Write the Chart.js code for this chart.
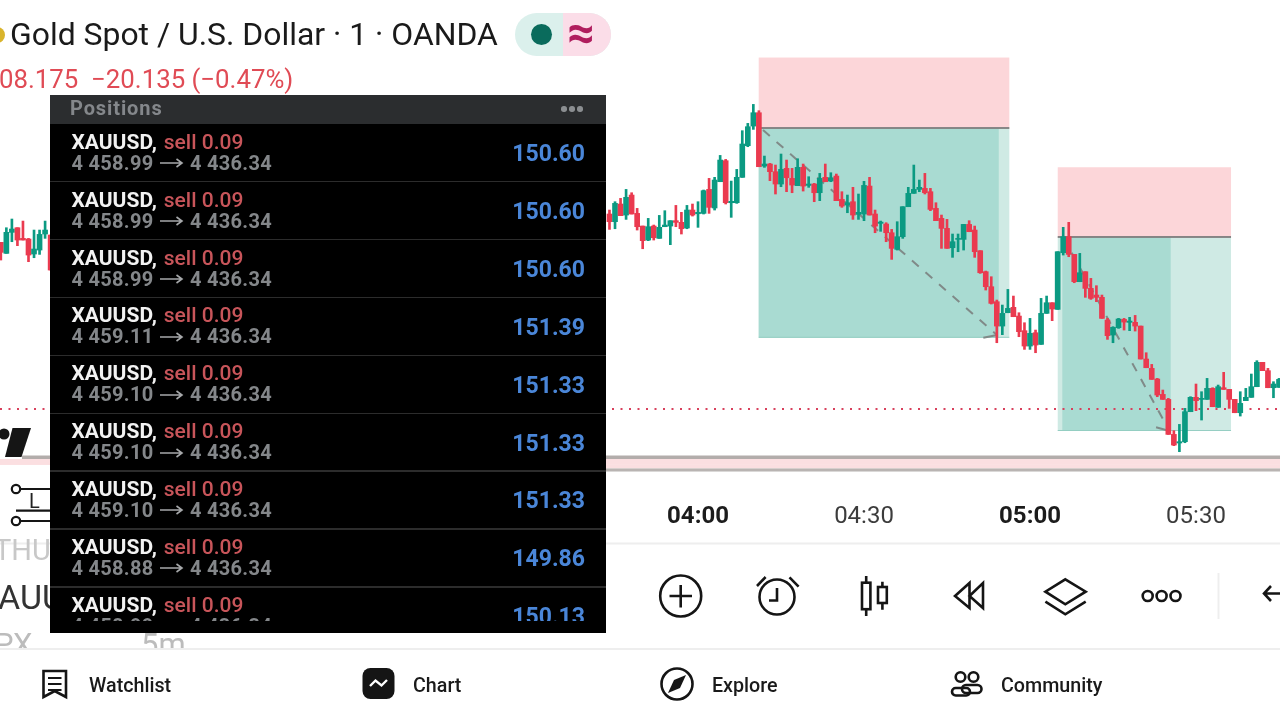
<!DOCTYPE html>
<html><head><meta charset="utf-8">
<script src="https://cdn.jsdelivr.net/npm/chart.js@4"></script>
<style>
html,body{margin:0;padding:0;background:#fff;width:1280px;height:720px;overflow:hidden;font-family:Roboto,sans-serif}
#wrap{position:relative;width:1280px;height:720px;overflow:hidden}
canvas#c{position:absolute;left:0;top:0}
.t{position:absolute;white-space:pre;line-height:1}
svg{position:absolute;left:0;top:0}
#panel{position:absolute;left:50px;top:95px;width:556px;height:538px;background:#000;overflow:hidden}
#phead{position:absolute;left:0;top:0;width:556px;height:29px;background:#2b2d2f}
.row{position:absolute;left:0;width:556px;height:58px}
.sep{position:absolute;left:0;width:556px;height:1.5px;background:#2c2c2c}
#clip{position:absolute;left:0;top:29px;width:556px;height:497px;overflow:hidden}
</style></head><body>
<div id="wrap">
<canvas id="c" width="1280" height="720"></canvas>
<svg width="1280" height="720" viewBox="0 0 1280 720" fill="none" stroke="#151515" stroke-width="2.6">
  <line x1="0" y1="543.5" x2="1280" y2="543.5" stroke="#eeeeee" stroke-width="2"/>
  <line x1="0" y1="649" x2="1280" y2="649" stroke="#eeeeee" stroke-width="2"/>
  <line x1="1218.5" y1="573" x2="1218.5" y2="619" stroke="#eeeeee" stroke-width="2"/>
  <circle cx="4" cy="434" r="5.5" fill="#151515" stroke="none"/>
  <path d="M12.5 428H31L21.5 457H5Z" fill="#151515" stroke="none"/>
  <g stroke-width="2.2"><circle cx="16" cy="489" r="4.2"/><circle cx="16" cy="521" r="4.2"/>
  <path d="M20 489H50M20 521H50M16 510.7H50"/></g>
  <circle cx="680.7" cy="596" r="20.5"/><path d="M669.5 596H692M680.7 585V607.5"/>
  <circle cx="777" cy="597" r="17.5"/><path d="M777 588V600.5H769M757 586L765.6 577M798.6 586.7L789.5 577.3"/>
  <rect x="862" y="582.7" width="8.4" height="26.5"/><path d="M866.2 576V582.7M866.2 609V616"/>
  <rect x="878" y="587" width="8.8" height="16"/><path d="M882.4 581.7V587M882.4 603V609.7"/>
  <path d="M955 596L969.5 583V608ZM969.5 596L983 583V608Z"/>
  <path d="M1065.3 579.3L1085.7 591.7L1065.3 604.3L1045.4 591.7Z"/><path d="M1045.4 601.7L1065.3 614.3L1085.7 601.7"/>
  <circle cx="1147.7" cy="596" r="5"/><circle cx="1161.6" cy="596" r="5"/><circle cx="1175.5" cy="596" r="5"/>
  <path d="M1280 593.5H1264M1271 586L1264 593.5L1271 601"/>
  <path d="M43.5 671H66V697L54.7 691L43.5 697Z"/><path d="M48 678H61.5M48 684H61.5M48 690H61.5" stroke-width="2"/>
  <rect x="362.5" y="668" width="32" height="31" rx="8" fill="#151515" stroke="none"/>
  <path d="M370 686L375.5 680.5L381.5 685.5L387 680" stroke="#fff" stroke-width="2.4"/>
  <circle cx="677" cy="684" r="15.5"/><path d="M686 675L680 688L668 693L674 680Z" fill="#151515" stroke="none"/>
  <circle cx="960.5" cy="677" r="4.8"/><circle cx="973.5" cy="677" r="4.8"/>
  <rect x="952" y="688" width="18" height="7.5" rx="3.7"/><rect x="962" y="685" width="19.5" height="8" rx="4"/>
  <circle cx="-3" cy="35" r="8" fill="#d9b42c" stroke="none"/>
</svg>
<div class="t" style="left:29px;top:491px;font-size:20px;color:#222">L</div>
<div id="pill" style="position:absolute;left:515px;top:13px;width:96px;height:43px;border-radius:22px;overflow:hidden;background:#dbf0ec">
  <div style="position:absolute;left:48px;top:0;width:48px;height:43px;background:#fbdde8"></div>
  <div style="position:absolute;left:16px;top:11px;width:21px;height:21px;border-radius:50%;background:#0a6b5c"></div>
  <div class="t" style="left:52px;top:-4px;font-size:48px;font-weight:700;color:#b01e5e">≈</div>
</div>
<div class="t" style="left:10px;top:18.5px;font-size:31.9px;color:#1a1a1a" id="title">Gold Spot / U.S. Dollar · 1 · OANDA</div>
<div class="t" style="left:-1px;top:67px;font-size:25.8px;color:#e04b55">08.175  −20.135 (−0.47%)</div>
<div class="t" style="left:-6px;top:536px;font-size:29px;color:#c8c8c8">THU</div>
<div class="t" style="left:-2px;top:580px;font-size:34px;color:#333">AUU</div>
<div style="position:absolute;left:0;top:625px;width:200px;height:23px;overflow:hidden">
  <div class="t" style="left:-6px;top:4px;font-size:31px;color:#bcbcbc">PX</div>
  <div class="t" style="left:141px;top:4px;font-size:31px;color:#bcbcbc">5m</div>
</div>
<div class="t" style="left:89px;top:676px;font-size:19.7px;font-weight:500;color:#1a1a1a">Watchlist</div>
<div class="t" style="left:413px;top:676px;font-size:19.7px;font-weight:500;color:#1a1a1a">Chart</div>
<div class="t" style="left:712px;top:676px;font-size:19.7px;font-weight:500;color:#1a1a1a">Explore</div>
<div class="t" style="left:1001px;top:676px;font-size:19.7px;font-weight:500;color:#1a1a1a">Community</div>
<div id="panel">
  <div id="phead">
    <div class="t" style="left:20px;top:3px;font-size:20px;font-weight:700;letter-spacing:.9px;color:#84878b">Positions</div>
    <div style="position:absolute;left:511px;top:11px;width:5.5px;height:5.5px;border-radius:50%;background:#8b8e91"></div>
    <div style="position:absolute;left:519px;top:11px;width:5.5px;height:5.5px;border-radius:50%;background:#8b8e91"></div>
    <div style="position:absolute;left:527px;top:11px;width:5.5px;height:5.5px;border-radius:50%;background:#8b8e91"></div>
  </div>
  <div id="clip"></div>
</div>
</div>
<script>
// ---- candle times (minutes after midnight) ----
const minutes = [114,115,116,117,118,119,120,121,122,123,
224,225,226,227,228,229,230,231,232,233,234,235,236,237,238,239,240,241,242,243,244,245,246,247,248,249,250,
251,252,253,254,255,256,257,258,259,260,261,262,263,264,265,266,267,268,269,270,271,272,273,274,275,276,277,278,279,280,
281,282,283,284,285,286,287,288,289,290,291,292,293,294,295,296,297,298,299,300,301,302,303,304,305,306,307,308,309,310,
311,312,313,314,315,316,317,318,319,320,321,322,323,324,325,326,327,328,329,330,331,332,333,334,335,336,337,338,339,340,
341,342,343,344,345];
const opens = [4446.64,4445.45,4447.72,4448.22,4447.07,4447.00,4445.38,4445.81,4447.54,4447.43,
4449.70,4448.87,4450.78,4449.59,4451.75,4449.77,4448.40,4446.89,4448.40,4447.07,4448.33,4448.40,4448.98,4448.80,4448.19,4450.13,4449.73,4449.77,4452.36,4450.35,4453.19,4455.46,4450.92,4450.92,4453.66,4457.08,4459.20,
4460.64,4454.88,4455.10,4454.27,4452.94,4454.63,4453.55,4452.76,4454.74,4452.79,4452.94,4452.00,4453.66,4453.26,4453.80,4451.28,4450.67,4451.03,4449.66,4449.70,4452.72,4449.70,4448.69,4448.62,4447.68,4445.88,4447.25,4450.49,4451.93,4452.36,
4452.47,4452.11,4450.31,4449.23,4448.15,4446.06,4446.96,4446.96,4448.58,4447.97,4445.74,4443.47,4441.85,4440.23,4437.60,4439.04,4439.62,4438.68,4437.10,4435.44,4436.88,4435.62,4438.97,4440.12,4439.40,4445.52,4447.25,4445.34,4442.39,4443.47,
4441.67,4440.95,4440.70,4438.25,4436.63,4437.42,4438.32,4438.00,4438.00,4437.60,4434.04,4433.03,4431.88,4430.22,4429.68,4425.90,4424.97,4425.11,4428.35,4429.90,4429.68,4429.68,4430.87,4428.82,4430.94,4430.76,4429.68,4428.24,4429.54,4429.90,
4431.05,4433.68,4432.78,4430.94,4430.98];
const closes = [4445.56,4447.72,4448.08,4446.89,4446.89,4445.27,4445.92,4447.50,4447.97,4443.65,
4448.87,4450.85,4449.52,4451.50,4449.70,4448.33,4446.82,4448.33,4447.14,4448.26,4448.51,4448.98,4448.80,4448.11,4450.13,4449.59,4449.88,4452.22,4450.42,4453.37,4455.53,4450.92,4451.07,4453.66,4457.26,4459.13,4460.64,
4454.81,4455.10,4454.27,4452.94,4454.52,4453.62,4452.83,4454.74,4452.72,4452.94,4452.00,4453.55,4453.19,4453.62,4451.14,4450.56,4450.92,4449.59,4449.88,4452.79,4449.59,4448.40,4448.83,4447.68,4445.99,4447.25,4450.49,4451.93,4452.36,4452.58,
4452.00,4450.20,4448.98,4448.15,4445.99,4446.71,4447.07,4448.58,4447.79,4445.63,4443.36,4441.85,4440.05,4437.60,4438.97,4439.51,4438.61,4436.99,4435.44,4436.81,4435.55,4438.97,4440.12,4439.44,4445.63,4447.25,4445.34,4442.39,4443.36,4441.67,
4440.59,4440.70,4438.43,4436.56,4437.46,4438.36,4438.03,4438.14,4437.60,4434.04,4433.10,4431.84,4430.15,4429.68,4425.90,4424.75,4425.11,4428.35,4429.90,4429.54,4429.79,4430.87,4428.89,4431.05,4430.76,4429.68,4428.24,4429.25,4429.90,4431.05,
4433.68,4432.78,4430.94,4431.34,4431.84];
const highs = [4446.64,4448.22,4449.16,4448.22,4448.94,4447.07,4447.97,4447.97,4448.94,4447.43,
4450.13,4451.03,4451.39,4452.36,4452.00,4450.31,4448.40,4449.23,4448.51,4449.55,4450.06,4448.98,4450.63,4449.88,4450.63,4450.78,4451.03,4452.29,4453.55,4453.66,4456.03,4455.60,4453.26,4454.52,4458.70,4459.49,4461.54,
4460.86,4455.96,4455.17,4454.99,4456.18,4455.53,4454.63,4455.67,4455.10,4453.73,4453.01,4454.09,4455.10,4454.16,4454.02,4452.11,4451.75,4452.58,4451.86,4453.23,4453.66,4450.13,4448.94,4448.76,4448.04,4448.87,4450.49,4452.58,4454.99,4453.37,
4454.09,4452.47,4450.92,4449.59,4449.12,4447.54,4447.54,4448.58,4448.98,4448.40,4445.74,4443.54,4442.93,4440.41,4439.87,4441.56,4440.84,4439.04,4437.96,4438.43,4437.17,4440.59,4440.84,4440.12,4445.63,4448.26,4448.80,4445.34,4445.45,4443.47,
4442.75,4441.96,4440.95,4438.43,4437.53,4438.43,4438.43,4438.54,4438.75,4437.60,4434.72,4433.46,4431.95,4430.69,4429.79,4426.30,4426.98,4428.71,4429.97,4431.34,4430.51,4431.95,4430.94,4431.23,4432.60,4430.76,4429.68,4430.51,4430.87,4432.42,
4433.86,4433.68,4433.03,4431.59,4431.95];
const lows = [4444.73,4445.45,4446.71,4446.28,4446.89,4444.55,4444.98,4445.34,4447.07,4443.65,
4448.04,4448.11,4449.52,4449.12,4449.70,4447.97,4445.95,4446.82,4446.89,4447.07,4448.33,4446.39,4448.33,4447.54,4448.11,4449.48,4448.26,4449.70,4449.77,4450.13,4453.19,4450.78,4449.34,4450.85,4453.66,4456.97,4458.84,
4454.81,4454.74,4453.30,4451.86,4452.65,4452.11,4452.00,4452.76,4452.18,4452.58,4451.03,4451.14,4453.19,4453.19,4451.14,4450.42,4449.84,4449.12,4449.12,4448.98,4449.59,4447.68,4447.83,4446.71,4444.80,4445.81,4447.07,4450.49,4451.93,4452.11,
4451.86,4450.06,4448.98,4445.99,4445.99,4445.02,4445.63,4445.81,4447.79,4445.02,4443.29,4441.49,4439.98,4435.80,4436.67,4439.04,4438.61,4436.45,4435.08,4435.08,4434.72,4435.62,4438.97,4438.18,4439.40,4445.27,4445.09,4442.28,4442.39,4440.70,
4440.48,4440.23,4438.43,4436.16,4435.80,4437.35,4437.17,4437.10,4437.06,4434.04,4433.10,4431.84,4429.97,4429.68,4425.90,4424.68,4424.03,4425.00,4428.35,4428.46,4427.45,4429.68,4428.89,4428.82,4430.76,4428.71,4428.24,4427.88,4429.54,4429.90,
4431.05,4432.78,4430.94,4429.86,4430.98];
// ---- x axis ----
const tickTimes = [240,270,300,330];
const tickLabels = ['04:00','04:30','05:00','05:30'];
// ---- position tools [startMin, endMin, solidEndMin, solidStartMin, stop, entry, target] ----
const shortTrades = [
  [250.97,296.26,294.35,250.97,4466.60,4458.99,4436.34],
  [305.01,336.33,325.43,305.84,4454.75,4447.22,4426.27]
];
const pathA = [{x:251.75,y:4458.77},{x:294.04,y:4436.63}];
const pathAHead = [{x:291.56,y:4436.34},{x:294.04,y:4436.63}];
const pathB = [{x:305.97,y:4447.22},{x:325.2,y:4426.27}];
const pathBHead = [{x:322.78,y:4426.67},{x:325.2,y:4426.27}];
const prevClose = 4428.64;
const stopBand = [4423.62,4423.24,4422.60,4422.22,4421.89];
// ---- positions panel ----
const entries = ['4 458.99','4 458.99','4 458.99','4 459.11','4 459.10','4 459.10','4 459.10','4 458.88','4 458.99'];
const profits = ['150.60','150.60','150.60','151.39','151.33','151.33','151.33','149.86','150.13'];

const clip = document.getElementById('clip');
const rowStep = 57.9;
entries.forEach((e,i)=>{
  const top = i*rowStep;
  clip.insertAdjacentHTML('beforeend',
   `<div class="row" style="top:${top}px">
     <div class="t" style="left:21.5px;top:7.8px;font-size:21px;font-weight:700;color:#f2f2f2">XAUUSD, <span style="color:#c8555a;font-weight:500;margin-left:1.5px">sell 0.09</span></div>
     <div class="t" style="left:21.5px;top:28.8px;font-size:20px;font-weight:700;color:#84878a;letter-spacing:.3px">${e}</div>
     <svg style="left:110px;top:32px" width="24" height="14" viewBox="0 0 24 14" fill="none" stroke="#a6a8aa" stroke-width="1.6"><path d="M0 7H22M16.5 3L22 7L16.5 11"/></svg>
     <div class="t" style="left:140px;top:28.8px;font-size:20px;font-weight:700;color:#84878a;letter-spacing:.3px">4 436.34</div>
     <div class="t" style="right:21px;top:18px;font-size:23px;font-weight:700;color:#4a86d8">${profits[i]}</div>
   </div>`);
  if(i>0) clip.insertAdjacentHTML('beforeend',`<div class="sep" style="top:${top-1}px"></div>`);
});

const green='#0b9a82', red='#ea3a4f';
const colors = opens.map((o,i)=> closes[i]>=o ? green : red);
const wickData = minutes.map((m,i)=>({x:m,y:[lows[i],highs[i]]}));
const bodyData = minutes.map((m,i)=>({x:m,y:[opens[i],closes[i]]}));

const boxes = {
  id:'boxes',
  beforeDatasetsDraw(chart){
    const {ctx,scales:{x,y}}=chart;
    const rect=(a,b,p,q,c)=>{
      const l=x.getPixelForValue(a),r=x.getPixelForValue(b),t=y.getPixelForValue(p),u=y.getPixelForValue(q);
      ctx.fillStyle=c;ctx.fillRect(l,t,r-l,u-t);
    };
    ctx.save();
    const xMin=x.min,xMax=x.max,xBandStart=x.getValueForPixel(22),xRight=x.getValueForPixel(50);
    rect(xBandStart,xMax,stopBand[0],stopBand[1],'#b3adab');
    rect(xMin,xMax,stopBand[1],stopBand[2],'#fbdfe1');
    rect(xRight,xMax,stopBand[2],stopBand[3],'#fbdfe1');
    rect(xRight,xMax,stopBand[3],stopBand[4],'#b9b4b2');
    shortTrades.forEach(([a,b,solidEnd,solidStart,stop,entry,target])=>{
      rect(a,b,stop,entry,'#fcd6d9');
      rect(a,b,entry,target,'#cfeae4');
      rect(solidStart,solidEnd,entry,target,'#a9dbd2');
      rect(a,b,target+0.1,target,'#93cdc1');
      rect(a,b,entry+0.1,entry-0.1,'#808080');
    });
    ctx.restore();
  }
};
const dashStyle={type:'line',borderColor:'#808a88',borderWidth:2,pointRadius:0,fill:false,order:5,tension:0};
new Chart(document.getElementById('c'),{
  type:'bar',
  plugins:[boxes],
  data:{datasets:[
    {type:'bar',label:'body',data:bodyData,backgroundColor:colors,barThickness:5,order:1,grouped:false},
    {type:'bar',label:'wick',data:wickData,backgroundColor:colors,barThickness:2,order:2,grouped:false},
    {...dashStyle,label:'pathA',data:pathA,borderDash:[9,9]},
    {...dashStyle,label:'pathAHead',data:pathAHead},
    {...dashStyle,label:'pathB',data:pathB,borderDash:[9,9]},
    {...dashStyle,label:'pathBHead',data:pathBHead},
    {type:'line',label:'prevClose',data:[{x:113.85,y:prevClose},{x:345.18,y:prevClose}],borderColor:'#d8405c',borderWidth:2,borderDash:[2,6.5],pointRadius:0,order:4}
  ]},
  options:{
    responsive:false,animation:false,devicePixelRatio:1,
    layout:{padding:0},
    plugins:{legend:{display:false},tooltip:{enabled:false}},
    scales:{
      x:{type:'linear',position:'bottom',min:113.85,max:345.18,offset:false,
        grid:{display:false},border:{display:false},
        afterBuildTicks(s){s.ticks=tickTimes.map(v=>({value:v}));},
        afterFit(s){s.height=248;},
        ticks:{autoSkip:false,maxRotation:0,padding:23,includeBounds:false,
          callback:v=>tickLabels[tickTimes.indexOf(v)]||'',
          color:c=>c.tick&&c.tick.value%60===0?'#1c1c1c':'#3c3c3c',
          font:c=>({family:'Roboto',size:24,weight:c.tick&&c.tick.value%60===0?'700':'400'})}
      },
      y:{display:false,min:4421.838,max:4472.814}
    }
  }
});
</script>
</body></html>
